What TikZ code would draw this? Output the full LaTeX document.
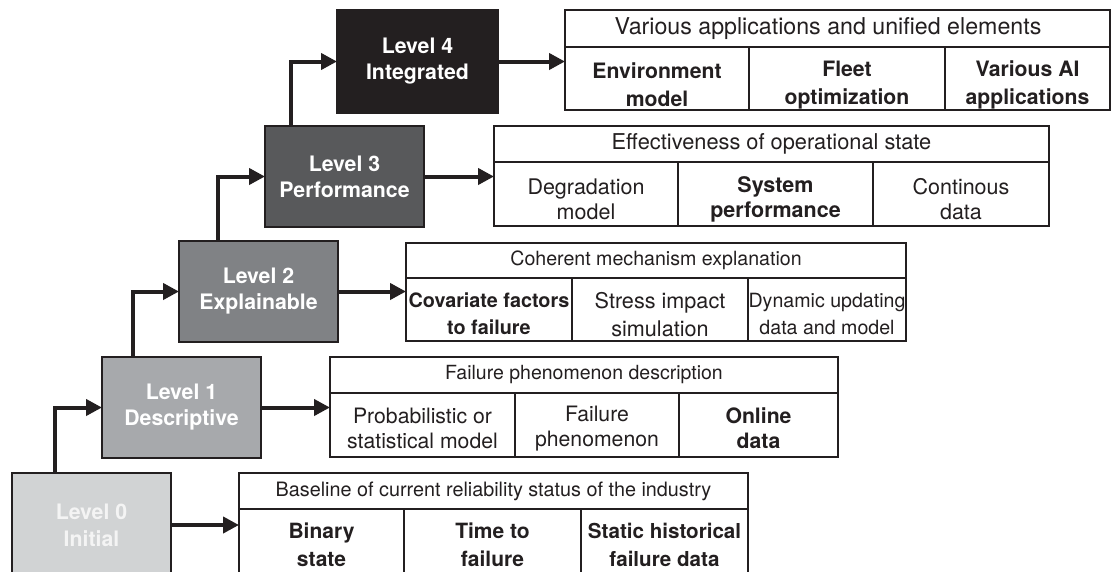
\documentclass[tikz,border=0pt]{standalone}
\usepackage{fontspec}
\setmainfont{TeX Gyre Heros}
\usetikzlibrary{arrows.meta}
\definecolor{linec}{HTML}{231F20}
\definecolor{lvz}{HTML}{D1D3D4}
\definecolor{lvo}{HTML}{A7A9AC}
\definecolor{lvt}{HTML}{808285}
\definecolor{lvh}{HTML}{58595B}
\definecolor{lvf}{HTML}{231F20}
\definecolor{lvztext}{HTML}{F4F4F4}
\tikzset{
  lvl/.style={draw=linec, line width=2.5pt, anchor=north west, outer sep=0pt, inner sep=0pt,
    minimum width=159pt, minimum height=101pt, align=center, text=white,
    font=\bfseries\fontsize{21.3}{26}\selectfont},
  tbl/.style={draw=linec, line width=2.3pt, anchor=north west, outer sep=0pt, inner sep=0pt, fill=white},
  tline/.style={draw=linec, line width=2.3pt},
  txt/.style={inner sep=0pt, align=center, text=linec},
  txtn/.style 2 args={txt, font=\fontsize{#1}{#2}\selectfont},
  txtb/.style 2 args={txt, font=\bfseries\fontsize{#1}{#2}\selectfont},
  conn/.style={draw=linec, line width=4pt, -{Triangle[length=16pt,width=16pt]}},
}
\begin{document}
\begin{tikzpicture}[x=1pt,y=-1pt]
\useasboundingbox (0,0) rectangle (1112,571);
\clip (0,0) rectangle (1112,571);
% level boxes
\node[lvl, fill=lvz, text=lvztext, minimum height=104pt, font=\bfseries\fontsize{21.3}{27}\selectfont] (L0) at (12,473) {Level 0\\Initial};
\node[lvl, fill=lvo] (L1) at (102,357) {Level 1\\Descriptive};
\node[lvl, fill=lvt] (L2) at (179,241) {Level 2\\Explainable};
\node[lvl, fill=lvh] (L3) at (265,126) {Level 3\\Performance};
\node[lvl, fill=lvf, minimum width=161pt, minimum height=103pt] (L4) at (337,10) {Level 4\\Integrated};

% table 4
\node[tbl, minimum width=545pt, minimum height=100pt] (T4) at (565,10) {};
\draw[tline] (565,47) -- (1110,47) (749,47) -- (749,110) (945,47) -- (945,110);
\node[txtn={23.2}{28}] (T4h) at (828,28.5) {Various applications and unified elements};
\node[txtb={21.2}{28}] (T4a) at (657,85) {Environment\\model};
\node[txtb={21.2}{28}] (T4b) at (847,85) {Fleet\\optimization};
\node[txtb={21.2}{28}] (T4c) at (1027.5,85) {Various AI\\applications};

% table 3
\node[tbl, minimum width=555pt, minimum height=100pt] (T3) at (494,126) {};
\draw[tline] (494,162) -- (1049,162) (678,162) -- (678,226) (873,162) -- (873,226);
\node[txtn={21.8}{26}] (T3h) at (771.5,144) {Effectiveness of operational state};
\node[txtn={21.5}{25}] (T3a) at (586,199.5) {Degradation\\model};
\node[txtb={21.5}{25}] (T3b) at (775.5,199.5) {System\\performance};
\node[txtn={21.5}{25}] (T3c) at (961,199.5) {Continous\\data};

% table 2
\node[tbl, minimum width=500pt, minimum height=98pt] (T2) at (406,243) {};
\draw[tline] (406,278) -- (906,278) (572,278) -- (572,341) (748,278) -- (748,341);
\node[txtn={19.6}{24}] (T2h) at (656,260.5) {Coherent mechanism explanation};
\node[txtb={19.8}{27}] (T2a) at (489,314) {Covariate factors\\to failure};
\node[txtn={21.6}{28}] (T2b) at (660,315) {Stress impact\\simulation};
\node[txtn={19.6}{27}] (T2c) at (827,314) {Dynamic updating\\data and model};

% table 1
\node[tbl, minimum width=508pt, minimum height=100pt] (T1) at (330,357) {};
\draw[tline] (330,393) -- (838,393) (515,393) -- (515,457) (679,393) -- (679,457);
\node[txtn={19.5}{24}] (T1h) at (584,375) {Failure phenomenon description};
\node[txtn={21.2}{25}] (T1a) at (422.5,428.5) {Probabilistic or\\statistical model};
\node[txtn={21.2}{25}] (T1b) at (597,428.5) {Failure\\phenomenon};
\node[txtb={21.2}{25}] (T1c) at (758.5,428.5) {Online\\data};

% table 0
\node[tbl, minimum width=509pt, minimum height=104pt] (T0) at (239,473) {};
\draw[tline] (239,509) -- (748,509) (404,509) -- (404,577) (581,509) -- (581,577);
\node[txtn={19.8}{24}] (T0h) at (493.5,491) {Baseline of current reliability status of the industry};
\node[txtb={21}{28}] (T0a) at (321.5,545) {Binary\\state};
\node[txtb={21}{28}] (T0b) at (492.5,545) {Time to\\failure};
\node[txtb={20.6}{28}] (T0c) at (664.5,545) {Static historical\\failure data};

% connectors between levels
\draw[conn] ([xshift=43pt]L0.north west) |- (L1.west);
\draw[conn] ([xshift=31pt]L1.north west) |- (L2.west);
\draw[conn] ([xshift=39pt]L2.north west) |- (L3.west);
\draw[conn] ([xshift=26pt]L3.north west) |- (L4.west);
% connectors level -> table
\draw[conn] (L0.east) -- (L0.east -| T0.west);
\draw[conn] (L1.east) -- (L1.east -| T1.west);
\draw[conn] (L2.east) -- (L2.east -| T2.west);
\draw[conn] (L3.east) -- (L3.east -| T3.west);
\draw[conn] (L4.east) -- (L4.east -| T4.west);
\end{tikzpicture}
\end{document}
